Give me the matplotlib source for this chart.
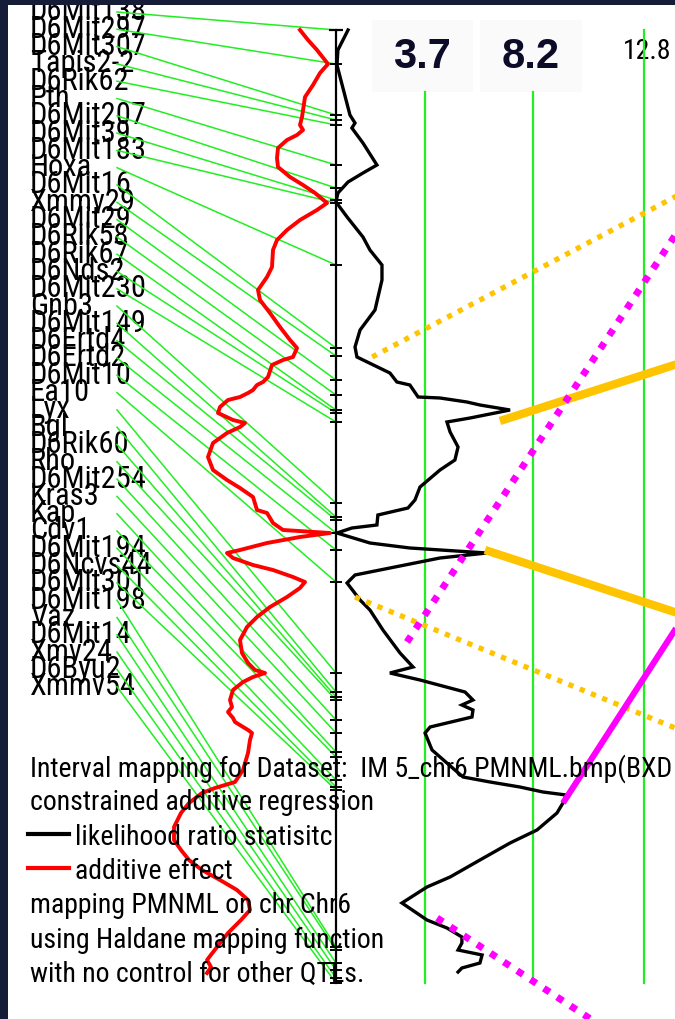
import matplotlib
matplotlib.use("Agg")
import matplotlib.pyplot as plt
from matplotlib import font_manager as fm
from matplotlib.patches import Rectangle
from matplotlib.lines import Line2D

# ---------------- data ----------------
marker_names = [
    "D6Mit138", "D6Mit297", "D6Mit307", "Tapis2-2", "D6Rik62", "Pth",
    "D6Mit207", "D6Mit39", "D6Mit183", "Hoxa", "D6Mit16", "Xmmv29",
    "D6Mit29", "D6Rik58", "D6Rik67", "D6Nds2", "D6Mit230", "Gnb3",
    "D6Mit149", "D6Ertd4", "D6Ertd2", "D6Mit10", "Ea10", "Lyx", "Bgl",
    "D6Rik60", "Rho", "D6Mit254", "Kras3", "Kap", "Cdv1", "D6Mit194",
    "D6Ncvs44", "D6Mit301", "D6Mit198", "Vaz", "D6Mit14", "Xmv24",
    "D6Byu2", "Xmmv54",
]
marker_pos_cm = [
    0.0, 3.4, 8.5, 9.0, 9.5, 13.5, 15.8, 17.0, 17.3, 23.5,
    31.8, 32.6, 35.0, 36.5, 38.0, 38.3, 39.2, 47.3, 48.7, 49.0,
    50.3, 52.0, 55.2, 64.3, 66.2, 66.7, 67.0, 69.0, 70.3, 72.2,
    72.7, 75.0, 75.7, 76.0, 91.7, 92.0, 93.3, 94.0, 94.8, 95.3,
]

# likelihood ratio statistic along the chromosome
lrs_pos_cm = [
    0.0, 2.0, 3.5, 8.5, 9.3, 9.8, 11.3, 13.5, 14.3, 15.2, 16.3, 17.2,
    18.7, 20.7, 22.0, 23.5, 25.0, 28.0, 30.0, 31.7, 32.7, 34.3, 35.2,
    35.5, 36.7, 36.8, 37.2, 37.5, 38.0, 38.8, 39.2, 40.2, 41.7, 43.0,
    44.0, 45.7, 47.0, 47.8, 48.5, 49.5, 49.8, 50.3, 51.3, 51.8, 52.3,
    52.8, 53.8, 54.5, 55.3, 57.0, 58.0, 60.0, 62.3, 63.7, 64.3, 65.0,
    66.2, 67.0, 67.5, 68.0, 68.7, 69.7, 70.3, 72.0, 74.0, 74.7, 75.2,
    75.7, 76.2, 76.5, 77.3, 78.3, 80.0, 81.3, 83.0, 84.7, 85.7, 87.3,
    89.0, 89.8, 90.7, 91.3, 92.0, 92.5, 93.3, 93.8, 94.2,
]
lrs_values = [
    0.50, 0.08, 0.04, 0.58, 0.79, 0.66, 1.12, 1.70, 1.12, 0.50, 0.08, 0.00,
    0.46, 1.12, 1.41, 1.91, 1.91, 1.62, 1.00, 0.79, 0.87, 2.24, 2.53,
    3.07, 3.41, 4.32, 5.44, 5.98, 7.23, 5.57, 4.61, 4.74, 5.07, 4.94,
    4.32, 3.49, 3.28, 2.99, 1.74, 1.70, 0.66, 0.04, 1.41, 3.07, 6.27,
    4.32, 2.24, 0.79, 0.46, 1.00, 1.41, 1.95, 2.66, 3.20, 2.24, 3.49,
    5.36, 5.69, 5.23, 5.69, 5.65, 3.91, 3.70, 3.99, 4.94, 5.28, 6.40,
    7.64, 8.60, 9.56, 9.43, 9.18, 8.35, 7.23, 5.98, 4.74, 3.78, 2.74,
    3.78, 4.61, 5.23, 5.23, 5.07, 6.07, 5.98, 5.23, 5.07,
]

# additive effect along the chromosome
additive_pos_cm = [
    0.0, 1.0, 2.0, 3.4, 4.3, 5.5, 6.7, 8.7, 9.5, 10.0, 10.5, 11.0, 11.8,
    12.8, 13.7, 14.7, 15.5, 16.3, 17.3, 18.0, 19.0, 20.0, 21.0, 22.0,
    23.7, 24.7, 26.0, 27.0, 28.3, 29.7, 31.0, 31.8, 32.7, 33.0, 33.5,
    34.7, 35.2, 35.5, 36.0, 36.3, 36.7, 37.0, 37.7, 38.3, 39.0, 39.3,
    39.7, 40.3, 41.3, 42.7, 44.0, 45.0, 45.8, 46.7, 48.0, 48.3, 49.3,
    50.0, 50.3, 50.7, 51.3, 52.0, 52.3, 52.8, 53.5, 54.0, 54.7, 55.2,
    55.8, 56.7, 57.7, 58.7, 59.7, 61.0, 62.3, 63.3, 64.0, 64.3, 64.7,
    65.2, 66.0, 67.0, 67.7, 68.2, 68.8, 69.2, 70.0, 70.3, 71.0, 72.3,
    74.0, 75.2, 75.8, 76.3, 77.3, 78.3, 79.7, 81.0, 82.0, 83.0, 84.0,
    85.0, 86.0, 87.0, 88.0, 89.0, 90.3, 91.7, 93.0, 93.7, 94.3,
]
additive_values = [
    -0.18, -0.14, -0.095, -0.04, -0.08, -0.115, -0.155, -0.17, -0.18,
    -0.165, -0.195, -0.245, -0.29, -0.295, -0.29, -0.23, -0.165, -0.105,
    -0.045, -0.095, -0.18, -0.245, -0.295, -0.315, -0.32, -0.345, -0.39,
    -0.38, -0.33, -0.28, -0.23, -0.195, -0.215, -0.265, -0.32, -0.34,
    -0.365, -0.395, -0.415, -0.44, -0.48, -0.54, -0.58, -0.59, -0.515,
    -0.455, -0.48, -0.545, -0.615, -0.64, -0.615, -0.545, -0.48, -0.415,
    -0.395, -0.345, -0.315, -0.265, -0.03, -0.18, -0.345, -0.48, -0.545,
    -0.515, -0.415, -0.315, -0.215, -0.155, -0.18, -0.245, -0.33, -0.395,
    -0.445, -0.48, -0.47, -0.44, -0.405, -0.355, -0.415, -0.465, -0.515,
    -0.53, -0.52, -0.54, -0.515, -0.505, -0.44, -0.42, -0.43, -0.44,
    -0.465, -0.505, -0.605, -0.67, -0.735, -0.775, -0.81, -0.81, -0.775,
    -0.735, -0.67, -0.58, -0.495, -0.44, -0.43, -0.475, -0.54, -0.595,
    -0.645, -0.625, -0.645,
]

threshold_values = [3.7, 8.2, 12.8]
threshold_text = ["3.7", "8.2", "12.8"]

legend_lines = [
    "Interval mapping for Dataset:  IM 5_chr6 PMNML.bmp(BXD",
    "constrained additive regression",
    "likelihood ratio statisitc",
    "additive effect",
    "mapping PMNML on chr Chr6",
    "using Haldane mapping function",
    "with no control for other QTLs.",
]

# support-interval overlays: (LRS start, cM start, LRS end, cM end)
gold_dotted = [(1.50, 32.7, 14.7, 15.9), (0.79, 56.7, 14.7, 70.4)]
gold_solid = [(6.81, 39.1, 14.7, 33.0), (6.19, 52.0, 14.7, 58.7)]
magenta_dotted = [(2.95, 61.2, 14.7, 18.3), (4.20, 88.8, 10.76, 99.2)]
magenta_solid = [(9.43, 77.3, 14.7, 57.7)]

# ---------------- layout ----------------
W, H = 675, 1019
PANEL_LEFT, PANEL_TOP = 8, 5
AXIS_X = 336          # pixel column of the chromosome line (LRS = 0)
PX_PER_LRS = 24.07
CHR_TOP = 30          # pixel row of 0 cM
PX_PER_CM = 10.0
PX_PER_ADD = 200.0
LABEL_X = 30
LABEL_TOP = 12
LABEL_STEP = 17.3
LINK_X = 117


def lrs_at(px):
    return (px - AXIS_X) / PX_PER_LRS


def cm_at(py):
    return (py - CHR_TOP) / PX_PER_CM


available = {f.name for f in fm.fontManager.ttflist}
narrow = dict(family="DejaVu Sans", fontstretch="condensed")
for cand in ["Liberation Sans Narrow", "Roboto Condensed", "Open Sans Condensed"]:
    if cand in available:
        narrow = dict(family=cand)
        break

GREEN = "#22ee22"
GOLD = "#ffc400"
MAGENTA = "#ff00ff"

fig = plt.figure(figsize=(W / 100, H / 100), dpi=100, facecolor="#141c38")
ax = fig.add_axes([PANEL_LEFT / W, 0, (W - PANEL_LEFT) / W, (H - PANEL_TOP) / H])
ax.set_facecolor("white")
ax.set_xlim(lrs_at(PANEL_LEFT), lrs_at(W))
ax.set_ylim(cm_at(H), cm_at(PANEL_TOP))
ax.set_xticks([])
ax.set_yticks([])
for s in ax.spines.values():
    s.set_visible(False)

ax2 = ax.twiny()
ax2.set_xlim((PANEL_LEFT - AXIS_X) / PX_PER_ADD, (W - AXIS_X) / PX_PER_ADD)
ax2.set_axis_off()

chr_end = marker_pos_cm[-1]

# marker names and their links to the chromosome
for i, (name, pos) in enumerate(zip(marker_names, marker_pos_cm)):
    ly = cm_at(LABEL_TOP + LABEL_STEP * i)
    ax.text(lrs_at(LABEL_X), ly, name, fontsize=22, color="black",
            va="center", ha="left", clip_on=True, zorder=1, **narrow)
    ax.plot([lrs_at(LINK_X), 0], [ly, pos], color=GREEN, lw=1.1, zorder=2)

# chromosome line with marker ticks
ax.plot([0, 0], [0, chr_end], color="black", lw=1.6, zorder=3)
ax.hlines([0], -0.28, 0.28, color="black", lw=1.6, zorder=3)
ax.hlines(marker_pos_cm, -0.25, 0.25, color="black", lw=1.4, zorder=3)

# significance thresholds
threshold_start = [cm_at(92), cm_at(92), 0.0]
for thr, top in zip(threshold_values, threshold_start):
    ax.plot([thr, thr], [top, chr_end], color=GREEN, lw=1.6, zorder=2)

for thr, txt in zip(threshold_values[:2], threshold_text[:2]):
    x0 = thr - 2.2
    ax.add_patch(Rectangle((x0, cm_at(20)), 4.2, cm_at(92) - cm_at(20),
                           facecolor="#fafafa", edgecolor="none", zorder=1))
    ax.text(thr - 0.12, cm_at(57), txt, fontsize=30, fontweight="bold",
            family="Liberation Sans", color="#0c0c28", ha="center",
            va="center", zorder=6)
ax.text(lrs_at(623), cm_at(52), threshold_text[2], fontsize=20,
        color="black", ha="left", va="center", zorder=1, **narrow)

# curves
ax.plot(lrs_values, lrs_pos_cm, color="black", lw=2.4, zorder=4,
        solid_joinstyle="miter")
ax2.plot(additive_values, additive_pos_cm, color="#ff0000", lw=2.8, zorder=4)

# support-interval overlays
for x0, y0, x1, y1 in gold_dotted:
    ax.plot([x0, x1], [y0, y1], color=GOLD, lw=3.8, linestyle=(0, (1, 1.3)),
            dash_capstyle="butt", zorder=5)
for x0, y0, x1, y1 in gold_solid:
    ax.plot([x0, x1], [y0, y1], color=GOLD, lw=6.0, solid_capstyle="butt",
            zorder=5)
for x0, y0, x1, y1 in magenta_dotted:
    ax.plot([x0, x1], [y0, y1], color=MAGENTA, lw=5.0,
            linestyle=(0, (1, 1.3)), dash_capstyle="butt", zorder=5)
for x0, y0, x1, y1 in magenta_solid:
    ax.plot([x0, x1], [y0, y1], color=MAGENTA, lw=4.4, solid_capstyle="butt",
            zorder=5)

# legend block
baselines = [777, 810, 845, 879, 913, 948, 982]
text_x = [30, 30, 75, 75, 30, 30, 30]
for txt, bx, by in zip(legend_lines, text_x, baselines):
    fig.text(bx / W, 1 - by / H, txt, fontsize=20, color="black",
             ha="left", va="baseline", zorder=1, **narrow)
for color, y in [("black", 834), ("#ff0000", 868)]:
    fig.add_artist(Line2D([28 / W, 69 / W], [1 - y / H, 1 - y / H],
                          color=color, lw=3.0, zorder=1))

fig.savefig("out.png", dpi=100, facecolor=fig.get_facecolor())
